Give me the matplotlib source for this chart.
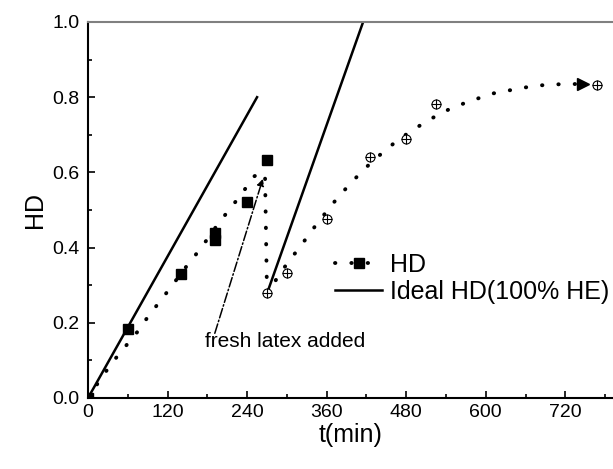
import matplotlib
matplotlib.use('Agg')
import matplotlib.pyplot as plt
from matplotlib.lines import Line2D
from matplotlib.ticker import MultipleLocator

plt.rcParams['font.family'] = ['Liberation Sans', 'DejaVu Sans']

# measured HD before fresh latex (squares)
sq_t = [0, 60, 140, 191, 191, 240, 270]
sq_hd = [0, 0.183, 0.33, 0.439, 0.420, 0.522, 0.633]

# measured HD after fresh latex (circle-plus)
cp_t = [270, 300, 360, 425, 480, 525, 768]
cp_hd = [0.278, 0.332, 0.477, 0.64, 0.69, 0.782, 0.832]

# dotted trend curve
fit_t = [0, 18, 36, 53, 72, 90, 108, 126, 144, 162, 179, 197, 215, 234, 249,
         262, 267, 270, 285, 302, 320, 337, 355, 374, 395, 418, 442, 466, 490,
         514, 536, 560, 584, 608, 632, 656, 679, 703, 727, 745]
fit_hd = [0, 0.048, 0.093, 0.13, 0.17, 0.215, 0.256, 0.297, 0.34, 0.38, 0.42,
          0.465, 0.505, 0.548, 0.588, 0.60, 0.595, 0.278, 0.318, 0.362, 0.402,
          0.444, 0.485, 0.527, 0.569, 0.611, 0.649, 0.684, 0.713, 0.739, 0.761,
          0.779, 0.794, 0.809, 0.817, 0.825, 0.831, 0.834, 0.835, 0.835]

# ideal HD (100% HE) lines
ideal1_t = [0, 255]
ideal1_hd = [0, 0.8]
ideal2_t = [270, 415]
ideal2_hd = [0.278, 1.0]

fig = plt.figure(figsize=(6.13, 4.69), dpi=100)
ax = fig.add_axes([0.1436, 0.1514, 0.8564, 0.8017])

dot_style = dict(color='black', linewidth=2.8, linestyle=(0, (0.1, 4.1)),
                 dash_capstyle='round')
ax.plot(fit_t, fit_hd, **dot_style)

ax.plot(ideal1_t, ideal1_hd, color='black', linewidth=1.8)
ax.plot(ideal2_t, ideal2_hd, color='black', linewidth=1.8)

ax.plot(sq_t, sq_hd, 's', color='black', markersize=7, linestyle='none')
ax.plot(cp_t, cp_hd, 'o', markerfacecolor='white', markeredgecolor='black',
        markersize=6.5, markeredgewidth=0.8, linestyle='none')
ax.plot(cp_t, cp_hd, '+', color='black', markersize=6.5, markeredgewidth=0.8,
        linestyle='none')
ax.plot([747], [0.835], '>', color='black', markersize=8)

ax.annotate('', xy=(265, 0.59), xytext=(190, 0.165),
            arrowprops=dict(arrowstyle='-|>', color='black', lw=1.1,
                            linestyle='-.', mutation_scale=10))
ax.text(177, 0.149, 'fresh latex added', fontsize=15, va='center', ha='left')

ax.set_xlim(0, 792)
ax.set_ylim(0, 1.0)
ax.xaxis.set_major_locator(MultipleLocator(120))
ax.xaxis.set_minor_locator(MultipleLocator(60))
ax.yaxis.set_major_locator(MultipleLocator(0.2))
ax.yaxis.set_minor_locator(MultipleLocator(0.1))
ax.tick_params(which='both', direction='in', width=1.2, labelsize=14)
ax.tick_params(which='major', length=5)
ax.tick_params(which='minor', length=3)
ax.tick_params(axis='x', pad=4)
ax.tick_params(axis='y', pad=6)
ax.set_yticks([0, 0.2, 0.4, 0.6, 0.8, 1.0])
ax.set_yticklabels(['0.0', '0.2', '0.4', '0.6', '0.8', '1.0'])

ax.spines['right'].set_visible(False)
ax.spines['top'].set_color('#808080')
ax.spines['top'].set_linewidth(1.5)
ax.spines['left'].set_linewidth(1.5)
ax.spines['bottom'].set_linewidth(1.5)

ax.set_xlabel('t(min)', fontsize=18, labelpad=2)
ax.set_ylabel('HD', fontsize=18, labelpad=4)

handles = [Line2D([], [], marker='s', markersize=7, **dot_style),
           Line2D([], [], color='black', linewidth=1.8)]
ax.legend(handles, ['HD', 'Ideal HD(100% HE)'], loc='upper left',
          bbox_to_anchor=(0.47, 0.385), frameon=False, fontsize=18,
          handlelength=1.9, handletextpad=0.3, borderpad=0, borderaxespad=0,
          labelspacing=0.1, numpoints=1)

fig.savefig('out.png', dpi=100)
